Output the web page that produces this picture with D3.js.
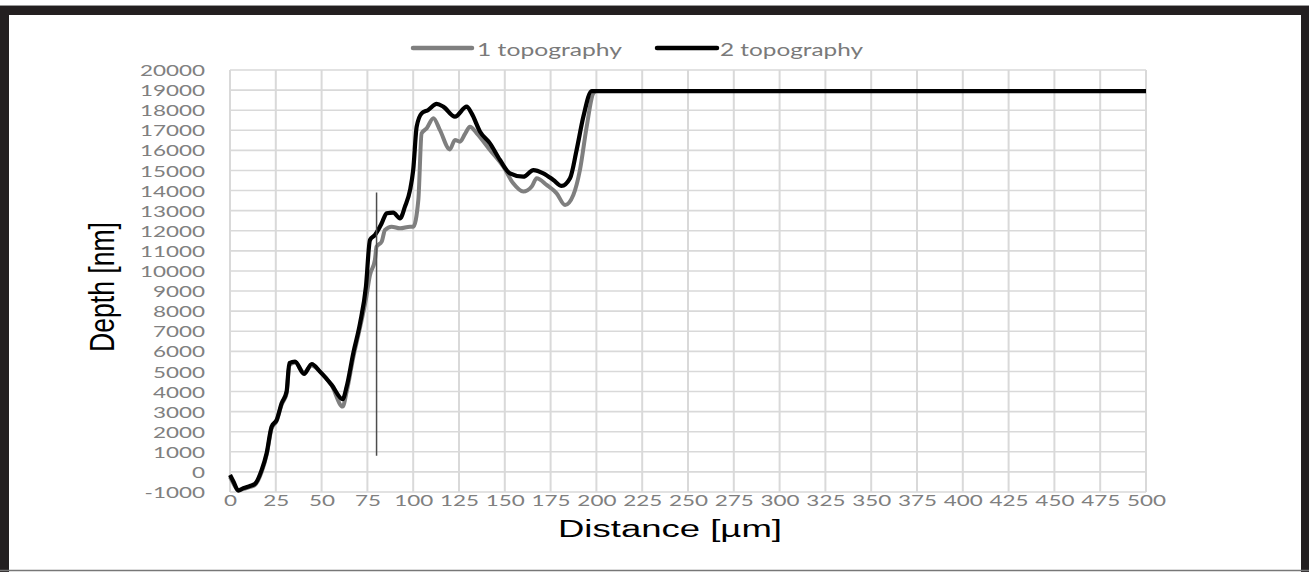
<!DOCTYPE html>
<html>
<head>
<meta charset="utf-8">
<script src="https://cdn.jsdelivr.net/npm/d3@7"></script>
<style>
  html, body { margin: 0; padding: 0; background: #fff; }
  svg { display: block; }
</style>
</head>
<body>
<svg id="chart" width="1309" height="572"></svg>
<script>
// ---- data ----
const seriesNames = ["1 topography", "2 topography"];
const distance1 = [0, 2, 4.5, 7.3, 10.9, 13.6, 17.3, 20, 22.7, 25.5, 28.2, 30.9, 32.4, 35.5, 40.4, 44.6, 49.1, 55.5, 61.5, 63.7, 67.3, 71, 74.2, 76.4, 79.1, 80, 82.8, 84.6, 88.2, 92.8, 98.3, 100, 102.8, 104.6, 107.4, 111, 114.6, 120, 122.8, 125.5, 128.3, 131, 134.7, 141.9, 149.2, 154.6, 160.1, 164.7, 167.4, 172.8, 178.3, 182.9, 187.4, 191, 194.7, 198.3, 200, 500];
const depth1 = [-250, -600, -900, -850, -750, -650, 0, 850, 2150, 2550, 3350, 3900, 5300, 5450, 4950, 5300, 5000, 4300, 3250, 4000, 5700, 7200, 8600, 9800, 10550, 11210, 11460, 12040, 12200, 12120, 12200, 12200, 13530, 16850, 17100, 17600, 17010, 16050, 16520, 16430, 16820, 17180, 16850, 16020, 15190, 14360, 13950, 14200, 14610, 14280, 13860, 13280, 13780, 15020, 17180, 18840, 18950, 18950];
const distance2 = [0, 2, 4.5, 7.3, 10.9, 13.6, 17.3, 20, 22.7, 25.5, 28.2, 30.9, 32.4, 35.5, 40.4, 44.6, 49.1, 55.5, 61.5, 63.7, 67.3, 71, 74.2, 76.4, 79.1, 82.8, 85.5, 89.1, 92.8, 95.5, 98.3, 100, 101.9, 104.6, 108.2, 112.8, 116.4, 122.8, 129.2, 131.9, 136.5, 141.9, 147.4, 152.8, 160.1, 165.6, 171, 176.5, 181, 185.6, 189.2, 192.9, 197.4, 200, 500];
const depth2 = [-150, -500, -930, -810, -700, -600, 100, 930, 2250, 2590, 3420, 4000, 5410, 5490, 4880, 5370, 4990, 4330, 3620, 4250, 5910, 7400, 9220, 11540, 11790, 12370, 12870, 12900, 12620, 13200, 14030, 15020, 17180, 17840, 18010, 18310, 18180, 17680, 18180, 17840, 16930, 16350, 15520, 14860, 14690, 15020, 14860, 14530, 14230, 14610, 16020, 17680, 18950, 18950, 18950];
const markerDistance = [80, 80];
const markerDepth = [800, 13900];
const xTicks = [0, 25, 50, 75, 100, 125, 150, 175, 200, 225, 250, 275, 300, 325, 350, 375, 400, 425, 450, 475, 500];
const yTicks = [-1000, 0, 1000, 2000, 3000, 4000, 5000, 6000, 7000, 8000, 9000, 10000, 11000, 12000, 13000, 14000, 15000, 16000, 17000, 18000, 19000, 20000];
const xTitle = "Distance [µm]";
const yTitle = "Depth [nm]";

// ---- layout ----
const svg = d3.select("#chart");
const plotLeft = 230, plotRight = 1146, plotTop = 70, plotBottom = 492;
const stretch = 1.45;
const x = d3.scaleLinear().domain([0, 500]).range([plotLeft, plotRight]);
const y = d3.scaleLinear().domain([-1000, 20000]).range([plotBottom, plotTop]);
const plainFormat = d => String(d);

// frame
svg.append("rect").attr("x", 0).attr("y", 0).attr("width", 1309).attr("height", 572).attr("fill", "#fff");
svg.append("line").attr("x1", 0).attr("x2", 1309).attr("y1", 5.5).attr("y2", 5.5).attr("stroke", "#999").attr("stroke-width", 1);
svg.append("rect").attr("x", 0).attr("y", 6).attr("width", 1309).attr("height", 9).attr("fill", "#231f20");
svg.append("rect").attr("x", 0).attr("y", 6).attr("width", 9).attr("height", 566).attr("fill", "#231f20");
svg.append("rect").attr("x", 1301).attr("y", 6).attr("width", 8).attr("height", 566).attr("fill", "#231f20");
svg.append("line").attr("x1", 0).attr("x2", 1309).attr("y1", 570.5).attr("y2", 570.5).attr("stroke", "#777").attr("stroke-width", 1.5);

// gridlines
const grid = svg.append("g").attr("stroke", "#d9d9d9").attr("stroke-width", 1.6);
grid.selectAll(".gx").data(xTicks).enter().append("line")
  .attr("x1", d => x(d)).attr("x2", d => x(d)).attr("y1", plotTop).attr("y2", plotBottom).attr("stroke-width", 2);
grid.selectAll(".gy").data(yTicks).enter().append("line")
  .attr("x1", plotLeft).attr("x2", plotRight).attr("y1", d => y(d)).attr("y2", d => y(d));

// axes (labels only)
const yAxis = svg.append("g").attr("transform", `translate(${plotLeft},0)`)
  .call(d3.axisLeft(y).tickValues(yTicks).tickSize(0).tickPadding(17.2).tickFormat(plainFormat));
yAxis.select(".domain").remove();
yAxis.selectAll("text").attr("font-family", "Lato, 'Open Sans', sans-serif").attr("font-size", 15.5)
  .attr("fill", "#808080").attr("transform", `scale(${stretch},1)`).attr("dy", "0.36em");

const xAxis = svg.append("g").attr("transform", `translate(0,${plotBottom})`)
  .call(d3.axisBottom(x).tickValues(xTicks).tickSize(0).tickPadding(3).tickFormat(plainFormat));
xAxis.select(".domain").remove();
xAxis.selectAll("text").attr("font-family", "Lato, 'Open Sans', sans-serif").attr("font-size", 15.5)
  .attr("fill", "#808080").attr("transform", `scale(${stretch},1)`);

// lines
const line = d3.line().x(d => x(d[0])).y(d => y(d[1])).curve(d3.curveMonotoneX);
const s1 = distance1.map((d, i) => [d, depth1[i]]);
const s2 = distance2.map((d, i) => [d, depth2[i]]);
svg.append("path").datum(s1).attr("d", line).attr("fill", "none")
  .attr("stroke", "#7f7f7f").attr("stroke-width", 4).attr("stroke-linejoin", "round");
svg.append("path").datum(s2).attr("d", line).attr("fill", "none")
  .attr("stroke", "#000").attr("stroke-width", 4.2).attr("stroke-linejoin", "round");

// vertical marker
svg.append("line")
  .attr("x1", x(markerDistance[0])).attr("x2", x(markerDistance[1]))
  .attr("y1", y(markerDepth[0])).attr("y2", y(markerDepth[1]))
  .attr("stroke", "#4d4d4d").attr("stroke-width", 1.5);

// legend
const legend = svg.append("g");
const legItems = [
  { name: seriesNames[0], color: "#7f7f7f", x0: 413, x1: 472, tx: 477, tw: 145 },
  { name: seriesNames[1], color: "#000", x0: 657, x1: 717, tx: 720, tw: 143 }
];
legItems.forEach(it => {
  legend.append("line").attr("x1", it.x0).attr("x2", it.x1).attr("y1", 48).attr("y2", 48)
    .attr("stroke", it.color).attr("stroke-width", 4.5).attr("stroke-linecap", "round");
  legend.append("text").attr("x", it.tx).attr("y", 56).text(it.name)
    .attr("font-family", "Lato, 'Open Sans', sans-serif").attr("font-size", 18).attr("fill", "#7a7a7a")
    .attr("textLength", it.tw).attr("lengthAdjust", "spacingAndGlyphs");
});

// axis titles
svg.append("text").attr("x", 670).attr("y", 537).attr("text-anchor", "middle").text(xTitle)
  .attr("font-family", "'Liberation Sans', Arial, sans-serif").attr("font-size", 23).attr("fill", "#000")
  .attr("textLength", 224).attr("lengthAdjust", "spacingAndGlyphs");
svg.append("text").attr("transform", `translate(114,287) scale(1.3,1) rotate(-90)`)
  .attr("text-anchor", "middle").text(yTitle)
  .attr("font-family", "'Liberation Sans', Arial, sans-serif").attr("font-size", 26.5).attr("fill", "#000")
  .attr("textLength", 130).attr("lengthAdjust", "spacingAndGlyphs");
</script>
</body>
</html>
